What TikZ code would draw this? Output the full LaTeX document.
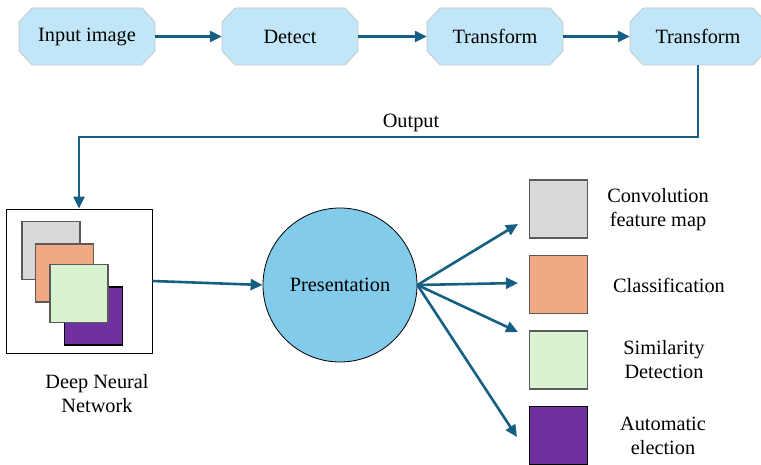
\documentclass[tikz,border=0pt]{standalone}
\usepackage{fontspec}
\setmainfont{Liberation Serif}
\newfontfamily\labelface{Liberation Serif}
\usetikzlibrary{arrows.meta}
\definecolor{flow}{HTML}{156082}
\definecolor{stepfill}{HTML}{C1E6F7}
\definecolor{stepline}{HTML}{C8C8C8}
\definecolor{presfill}{HTML}{83CBEB}
\definecolor{mapgray}{HTML}{D9D9D9}
\definecolor{maporange}{HTML}{F1A983}
\definecolor{mapgreen}{HTML}{D9F2D0}
\definecolor{mappurple}{HTML}{7030A0}
\definecolor{mapline}{HTML}{5A5A5A}

% chamfered process box: name, centre x, centre y, text
\newcommand{\procbox}[4]{%
  \fill[stepfill,draw=stepline,line width=0.8pt]
    ({#2-55},{#3-28.5}) -- ({#2+55},{#3-28.5}) -- ({#2+68},{#3-14.5}) --
    ({#2+68},{#3+14.5}) -- ({#2+55},{#3+28.5}) -- ({#2-55},{#3+28.5}) --
    ({#2-68},{#3+14.5}) -- ({#2-68},{#3-14.5}) -- cycle;
  \node[stepbox] (#1) at (#2,#3) {#4};}

\begin{document}
\begin{tikzpicture}[x=1pt,y=-1pt,
  font=\labelface\fontsize{20.3}{24}\selectfont,
  stepbox/.style={rectangle,minimum width=136pt,minimum height=57pt,inner sep=0pt},
  arr/.style={draw=flow,line width=2.6pt,-{Triangle[length=12pt,width=11pt]}},
  layer/.style={rectangle,minimum size=58pt,inner sep=0pt,draw=mapline,line width=1.1pt},
  legendtxt/.style={align=center,inner sep=0pt}]
\useasboundingbox (0,0) rectangle (761,465);

% processing chain
\procbox{input}{87}{36.5}{Input image}
\procbox{detect}{290}{36.5}{Detect}
\procbox{transA}{495}{36.5}{Transform}
\procbox{transB}{698}{36.5}{Transform}

\draw[arr] (input.east) -- (detect.west);
\draw[arr] (detect.east) -- (transA.west);
\draw[arr] (transA.east) -- (transB.west);

% deep neural network block
\node[rectangle,draw=black,line width=0.9pt,minimum width=146pt,minimum height=144pt,inner sep=0pt]
  (dnn) at (79,281) {};
\node[layer,fill=mapgray]   (lg) at (51,250.5) {};
\node[layer,fill=maporange] (lo) at (64.5,273) {};
\node[layer,fill=mappurple,draw=black] (lp) at (93.5,316) {};
\node[layer,fill=mapgreen]  (lq) at (79,293.5) {};
\node[legendtxt] (dnnlabel) at (97,393.5) {Deep Neural\\Network};

% output feedback path
\coordinate (turn) at (79,137);
\draw[arr] (transB.south) |- (turn) -- (dnn.north);
\node[inner sep=0pt] (outlabel) at (411,123) {Output};

% presentation
\node[circle,draw=black,line width=0.8pt,fill=presfill,minimum size=154pt,inner sep=0pt]
  (pres) at (340,285) {Presentation};
\draw[arr] (dnn.east) -- (pres.west);

% results
\node[layer,fill=mapgray]   (r1) at (558.5,209) {};
\node[layer,fill=maporange] (r2) at (558.5,284.5) {};
\node[layer,fill=mapgreen]  (r3) at (558.5,360) {};
\node[layer,fill=mappurple,draw=black] (r4) at (558.5,435.5) {};

\node[legendtxt] (t1) at (658,209.5) {Convolution\\feature map};
\node[legendtxt] (t2) at (669,285) {Classification};
\node[legendtxt] (t3) at (664,359.5) {Similarity\\Detection};
\node[legendtxt] (t4) at (663,435.5) {Automatic\\election};

\coordinate (e1) at (518,224);
\coordinate (e2) at (518,283);
\coordinate (e3) at (518,332);
\coordinate (e4) at (517,437);
\foreach \e in {e1,e2,e3,e4}
  \draw[arr] (pres.east) -- (\e);
\end{tikzpicture}
\end{document}
